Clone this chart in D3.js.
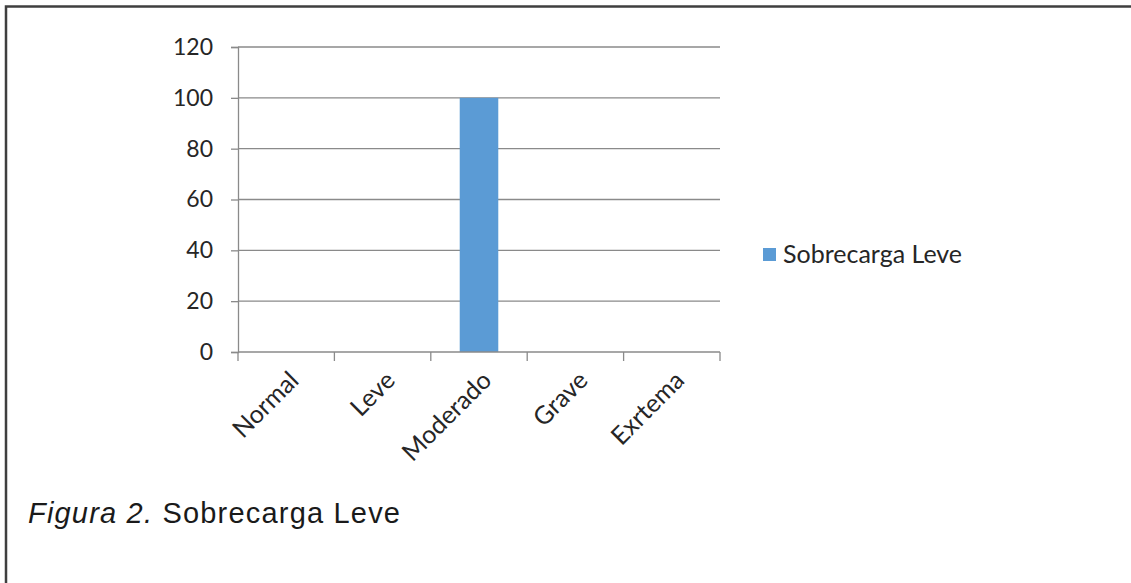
<!DOCTYPE html>
<html>
<head>
<meta charset="utf-8">
<script src="https://cdn.jsdelivr.net/npm/d3@7/dist/d3.min.js"></script>
<style>
  html, body { margin: 0; padding: 0; background: #fff; }
  svg { display: block; }
</style>
</head>
<body>
<svg id="chart" width="1131" height="583"></svg>
<script>
// Grado de sobrecarga (categorías) y porcentaje de la serie
const categories = ["Normal", "Leve", "Moderado", "Grave", "Exrtema"];
const seriesName = "Sobrecarga Leve";
const seriesValues = [0, 0, 100, 0, 0];
const yTicks = [0, 20, 40, 60, 80, 100, 120];
const captionLead = "Figura 2.";
const captionRest = " Sobrecarga Leve";

const W = 1131, H = 583;
const svg = d3.select("#chart");
const gridColor = "#8a8a8a";
const textColor = "#262626";
const barColor = "#5b9bd5";
const tickFont = "Lato, 'Noto Sans', sans-serif";

// Marco de la figura (bordes superior e izquierdo)
svg.append("path")
  .attr("d", `M6,${H} L6,6.5 L${W},6.5`)
  .attr("fill", "none")
  .attr("stroke", "#3f3f3f")
  .attr("stroke-width", 2.5);

const plot = { left: 238, right: 720, top: 47, bottom: 352 };

const x = d3.scaleBand()
  .domain(categories)
  .range([plot.left, plot.right])
  .paddingInner(0.6)
  .paddingOuter(0.3);

const y = d3.scaleLinear()
  .domain([0, 120])
  .range([plot.bottom, plot.top]);

// Líneas de cuadrícula horizontales
svg.append("g")
  .selectAll("line")
  .data(yTicks.filter(t => t > 0))
  .join("line")
  .attr("x1", plot.left).attr("x2", plot.right)
  .attr("y1", d => y(d)).attr("y2", d => y(d))
  .attr("stroke", gridColor)
  .attr("stroke-width", 1.3);

// Barras
svg.append("g")
  .selectAll("rect")
  .data(categories.map((c, i) => ({ c, v: seriesValues[i] })).filter(d => d.v > 0))
  .join("rect")
  .attr("x", d => x(d.c))
  .attr("width", x.bandwidth())
  .attr("y", d => y(d.v))
  .attr("height", d => y(0) - y(d.v))
  .attr("fill", barColor);

// Eje Y
const yAxis = svg.append("g")
  .attr("transform", `translate(${plot.left},0)`)
  .call(d3.axisLeft(y).tickValues(yTicks).tickSize(7).tickPadding(18).tickFormat(d3.format("d")));
yAxis.select(".domain").attr("stroke", gridColor).attr("stroke-width", 1.3);
yAxis.selectAll(".tick line").attr("stroke", gridColor).attr("stroke-width", 1.3);
yAxis.selectAll(".tick text")
  .attr("fill", textColor)
  .attr("font-family", tickFont)
  .attr("font-size", 23);

// Eje X: marcas en los límites entre categorías
const boundaries = d3.range(categories.length + 1).map(i => plot.left + i * (plot.right - plot.left) / categories.length);
const xAxis = svg.append("g");
xAxis.append("line")
  .attr("x1", plot.left).attr("x2", plot.right)
  .attr("y1", y(0)).attr("y2", y(0))
  .attr("stroke", gridColor).attr("stroke-width", 1.3);
xAxis.selectAll("line.tk")
  .data(boundaries)
  .join("line")
  .attr("class", "tk")
  .attr("x1", d => d).attr("x2", d => d)
  .attr("y1", y(0)).attr("y2", y(0) + 9)
  .attr("stroke", gridColor).attr("stroke-width", 1.3);

// Etiquetas de categoría giradas 45°
xAxis.selectAll("text")
  .data(categories)
  .join("text")
  .attr("transform", d => `translate(${x(d) + x.bandwidth() / 2 + 14},${y(0) + 30}) rotate(-45)`)
  .attr("text-anchor", "end")
  .attr("fill", textColor)
  .attr("font-family", tickFont)
  .attr("font-size", 25)
  .text(d => d);

// Leyenda
const legend = svg.append("g").attr("transform", "translate(763,248)");
legend.append("rect").attr("width", 13).attr("height", 13).attr("fill", barColor);
legend.append("text")
  .attr("x", 20).attr("y", 6.5)
  .attr("dy", "0.35em")
  .attr("fill", textColor)
  .attr("font-family", tickFont)
  .attr("font-size", 25)
  .text(seriesName);

// Pie de figura
const cap = svg.append("text")
  .attr("x", 28).attr("y", 523)
  .attr("font-family", "'Liberation Sans', Arial, sans-serif")
  .attr("font-size", 29)
  .attr("fill", "#1a1a1a");
cap.append("tspan").attr("font-style", "italic").text(captionLead);
cap.append("tspan").text(captionRest);
const capWidth = 372;
const natural = cap.node().getComputedTextLength();
const nChars = (captionLead + captionRest).length;
cap.attr("letter-spacing", Math.max(0, (capWidth - natural) / (nChars - 1)));
</script>
</body>
</html>
